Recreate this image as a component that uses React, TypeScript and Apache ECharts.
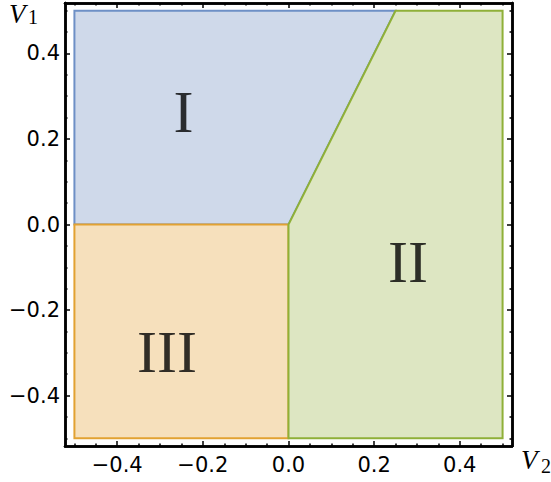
import React, { useEffect, useRef } from "react";
import * as echarts from "echarts";

const xRange = [-0.522, 0.522];
const yRange = [-0.518, 0.518];
const majorTicks = [-0.4, -0.2, 0, 0.2, 0.4];
const minorTicks = [-0.5, -0.45, -0.35, -0.3, -0.25, -0.15, -0.1, -0.05, 0.05, 0.1, 0.15, 0.25, 0.3, 0.35, 0.45, 0.5];

const regionI = [[-0.5, 0], [0, 0], [0.25, 0.5], [-0.5, 0.5]];
const regionII = [[0, -0.5], [0.5, -0.5], [0.5, 0.5], [0.25, 0.5], [0, 0]];
const regionIII = [[-0.5, -0.5], [0, -0.5], [0, 0], [-0.5, 0]];

const regionNames = ["I", "II", "III"];
const labelX = [-0.245, 0.279, -0.284];
const labelY = [0.262, -0.087, -0.298];

const fmt = (v: number) => {
  const s = Number(v).toFixed(1);
  return s.startsWith("-") ? "\u2212" + s.slice(1) : s;
};

function regionSeries(pts: number[][], fill: string, stroke: string) {
  return {
    type: "custom",
    xAxisIndex: 0,
    yAxisIndex: 0,
    data: pts,
    encode: { x: 0, y: 1 },
    silent: true,
    clip: true,
    renderItem: (params: any, api: any) => {
      if (params.dataIndex !== 0) return { type: "group", children: [] };
      return {
        type: "polygon",
        shape: { points: pts.map((p) => api.coord(p)) },
        style: { fill, stroke, lineWidth: 2, lineJoin: "miter" },
      };
    },
  };
}

function makeXAxis(position: string, values: number[], len: number, labels: boolean) {
  return {
    type: "value",
    position,
    min: xRange[0],
    max: xRange[1],
    axisLine: { show: true, onZero: false, lineStyle: { color: "#000", width: 2.5 } },
    axisTick: { show: true, inside: true, length: len, customValues: values, lineStyle: { color: "#000", width: 1.5 } },
    axisLabel: labels
      ? { show: true, customValues: values, formatter: fmt, fontSize: 21, fontFamily: "DejaVu Sans", color: "#000", margin: 8 }
      : { show: false },
    splitLine: { show: false },
  };
}

function makeYAxis(position: string, values: number[], len: number, labels: boolean) {
  return {
    type: "value",
    position,
    min: yRange[0],
    max: yRange[1],
    axisLine: { show: true, onZero: false, lineStyle: { color: "#000", width: 2.5 } },
    axisTick: { show: true, inside: true, length: len, customValues: values, lineStyle: { color: "#000", width: 1.5 } },
    axisLabel: labels
      ? { show: true, customValues: values, formatter: fmt, fontSize: 21, fontFamily: "DejaVu Sans", color: "#000", margin: 5 }
      : { show: false },
    splitLine: { show: false },
  };
}

export default function App() {
  const ref = useRef<HTMLDivElement>(null);
  useEffect(() => {
    if (!ref.current) return;
    const chart = echarts.init(ref.current, undefined, { renderer: "svg" });
    chart.setOption({
      animation: false,
      backgroundColor: "#fff",
      grid: { left: 65, right: 39, top: 3, bottom: 36 },
      xAxis: [
        makeXAxis("bottom", majorTicks, 5, true),
        makeXAxis("bottom", minorTicks, 2.5, false),
        makeXAxis("top", majorTicks, 5, false),
        makeXAxis("top", minorTicks, 2.5, false),
      ],
      yAxis: [
        makeYAxis("left", majorTicks, 5, true),
        makeYAxis("left", minorTicks, 2.5, false),
        makeYAxis("right", majorTicks, 5, false),
        makeYAxis("right", minorTicks, 2.5, false),
      ],
      series: [
        regionSeries(regionI, "#CFD9EA", "#6E90C6"),
        regionSeries(regionIII, "#F6E0BC", "#E2A232"),
        regionSeries(regionII, "#DDE6C2", "#8FB038"),
        {
          type: "scatter",
          xAxisIndex: 0,
          yAxisIndex: 0,
          symbolSize: 1,
          itemStyle: { color: "rgba(0,0,0,0)" },
          silent: true,
          data: regionNames.map((n, i) => ({ name: n, value: [labelX[i], labelY[i]] })),
          label: {
            show: true,
            position: "inside",
            formatter: "{b}",
            fontFamily: "Liberation Serif",
            fontSize: 60,
            color: "#000",
            textBorderWidth: 0,
            align: "center",
            verticalAlign: "middle",
          },
          z: 10,
        },
      ],
      graphic: [
        { type: "text", left: 9, top: 0, silent: true, style: { text: "V", font: "italic 27px 'Liberation Serif'", fill: "#000" } },
        { type: "text", left: 28, top: 7, silent: true, style: { text: "1", font: "20px 'Liberation Serif'", fill: "#000" } },
        { type: "text", left: 521, top: 446, silent: true, style: { text: "V", font: "italic 27px 'Liberation Serif'", fill: "#000" } },
        { type: "text", left: 541, top: 456, silent: true, style: { text: "2", font: "20px 'Liberation Serif'", fill: "#000" } },
      ],
    });
    return () => chart.dispose();
  }, []);
  return <div ref={ref} style={{ width: 551, height: 482, position: "absolute", left: 0, top: 0 }} />;
}
